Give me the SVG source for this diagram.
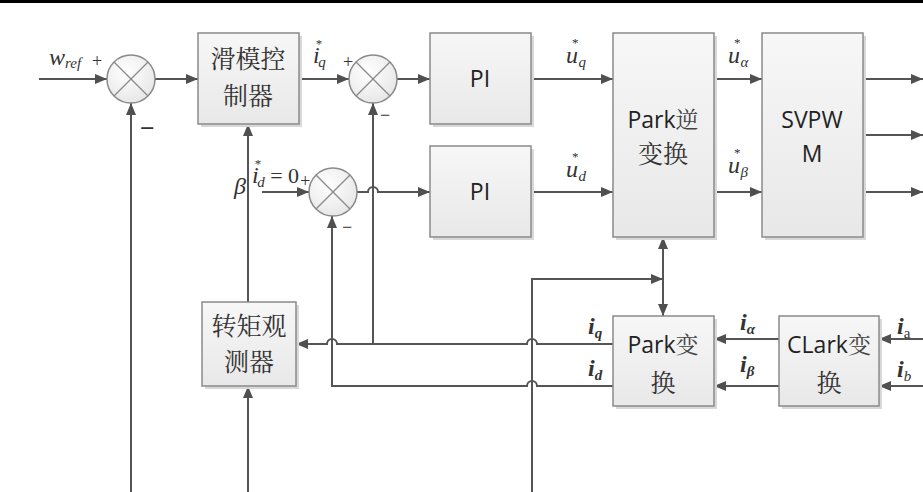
<svg xmlns="http://www.w3.org/2000/svg" width="923" height="492" viewBox="0 0 923 492">
<defs>
<linearGradient id="bg" x1="0" y1="0" x2="0" y2="1"><stop offset="0" stop-color="#f7f7f7"/><stop offset="1" stop-color="#e8e8e8"/></linearGradient>
<radialGradient id="cg" cx="0.4" cy="0.35" r="0.7"><stop offset="0" stop-color="#ffffff"/><stop offset="1" stop-color="#e6e6e6"/></radialGradient>
<marker id="ar" viewBox="0 0 12 10" refX="12" refY="5" markerWidth="12" markerHeight="10" markerUnits="userSpaceOnUse" orient="auto"><path d="M0,0 L12,5 L0,10 Z" fill="#505050"/></marker>
</defs>
<style>
.box{fill:url(#bg);stroke:#8a8a8a;stroke-width:1.5}
.sh{fill:#d8d8d8}
.sum{fill:url(#cg);stroke:#8a8a8a;stroke-width:1.5}
.x{stroke:#8a8a8a;stroke-width:1.2}
.ln{fill:none;stroke:#555;stroke-width:2}
.cjk{font-family:"Noto Serif CJK SC","Noto Sans CJK SC",serif;font-size:25px;fill:#333;text-anchor:middle}
.lat{font-family:"Open Sans","Noto Sans","Noto Sans CJK SC",sans-serif;font-size:23px;fill:#222;text-anchor:middle}
.m{font-family:"Liberation Serif",serif;font-style:italic;font-size:24px;fill:#333}
.mb{font-family:"Liberation Serif",serif;font-style:italic;font-weight:bold;font-size:24px;fill:#333}
.s{font-size:15px}
.st{font-size:13px;font-style:normal}
.sg{font-family:"Liberation Serif",serif;font-size:18px;fill:#333}
</style>
<rect x="0" y="0" width="923" height="3" fill="#000"/>

<g id="connectors">
<path class="ln" d="M39,79 H107" marker-end="url(#ar)"/>
<path class="ln" d="M155,79 H198" marker-end="url(#ar)"/>
<path class="ln" d="M299,79 H349" marker-end="url(#ar)"/>
<path class="ln" d="M397,79 H430" marker-end="url(#ar)"/>
<path class="ln" d="M531,79 H613" marker-end="url(#ar)"/>
<path class="ln" d="M714,79 H762" marker-end="url(#ar)"/>
<path class="ln" d="M714,192 H762" marker-end="url(#ar)"/>
<path class="ln" d="M531,192 H613" marker-end="url(#ar)"/>
<path class="ln" d="M357,192 H368 a5,5 0 0 1 10,0 H430" marker-end="url(#ar)"/>
<path class="ln" d="M262,192 H309" marker-end="url(#ar)"/>
<path class="ln" d="M863,79 H923" marker-end="url(#ar)"/>
<path class="ln" d="M863,135 H923" marker-end="url(#ar)"/>
<path class="ln" d="M863,192 H923" marker-end="url(#ar)"/>
<path class="ln" d="M131,492 V103" marker-end="url(#ar)"/>
<path class="ln" d="M248,302 V124" marker-end="url(#ar)"/>
<path class="ln" d="M248,492 V386" marker-end="url(#ar)"/>
<path class="ln" d="M613,344 H537 a5,5 0 0 0 -10,0 H337 a5,5 0 0 0 -10,0 H296" marker-end="url(#ar)"/>
<path class="ln" d="M373,344 V103" marker-end="url(#ar)"/>
<path class="ln" d="M613,386 H537 a5,5 0 0 0 -10,0 H332 V216" marker-end="url(#ar)"/>
<path class="ln" d="M532,492 V279 H663" marker-end="url(#ar)"/>
<path class="ln" d="M663,279 V237" marker-end="url(#ar)"/>
<path class="ln" d="M663,279 V316" marker-end="url(#ar)"/>
<path class="ln" d="M779,339 H714" marker-end="url(#ar)"/>
<path class="ln" d="M779,386 H714" marker-end="url(#ar)"/>
<path class="ln" d="M923,339 H879" marker-end="url(#ar)"/>
<path class="ln" d="M923,386 H879" marker-end="url(#ar)"/>
</g>

<g id="sum1">
<circle class="sum" cx="131" cy="79" r="24"/>
<line class="x" x1="114" y1="62" x2="148" y2="96"/><line class="x" x1="148" y1="62" x2="114" y2="96"/>
</g>
<g id="sum2">
<circle class="sum" cx="373" cy="79" r="24"/>
<line class="x" x1="356" y1="62" x2="390" y2="96"/><line class="x" x1="390" y1="62" x2="356" y2="96"/>
</g>
<g id="sum3">
<circle class="sum" cx="333" cy="192" r="24"/>
<line class="x" x1="316" y1="175" x2="350" y2="209"/><line class="x" x1="350" y1="175" x2="316" y2="209"/>
</g>

<g id="smc">
<rect class="sh" x="201" y="36" width="101" height="91"/>
<rect class="box" x="198" y="33" width="101" height="91"/>
<text class="cjk" x="248" y="68">滑模控</text>
<text class="cjk" x="248" y="105">制器</text>
</g>
<g id="pi1">
<rect class="sh" x="433" y="36" width="101" height="91"/>
<rect class="box" x="430" y="33" width="101" height="91"/>
<text class="lat" x="480" y="87">PI</text>
</g>
<g id="pi2">
<rect class="sh" x="433" y="149" width="101" height="91"/>
<rect class="box" x="430" y="146" width="101" height="91"/>
<text class="lat" x="480" y="200">PI</text>
</g>
<g id="ipark">
<rect class="sh" x="616" y="36" width="101" height="204"/>
<rect class="box" x="613" y="33" width="101" height="204"/>
<text class="lat" x="663" y="128">Park<tspan style="font-family:'Noto Serif CJK SC','Noto Sans CJK SC',serif;fill:#444">逆</tspan></text>
<text class="cjk" x="663" y="163">变换</text>
</g>
<g id="svpwm">
<rect class="sh" x="765" y="36" width="101" height="204"/>
<rect class="box" x="762" y="33" width="101" height="204"/>
<text class="lat" x="812" y="128">SVPW</text>
<text class="lat" x="812" y="162">M</text>
</g>
<g id="observer">
<rect class="sh" x="205" y="305" width="94" height="84"/>
<rect class="box" x="202" y="302" width="94" height="84"/>
<text class="cjk" x="249" y="335">转矩观</text>
<text class="cjk" x="249" y="371">测器</text>
</g>
<g id="park">
<rect class="sh" x="616" y="319" width="101" height="90"/>
<rect class="box" x="613" y="316" width="101" height="90"/>
<text class="lat" x="663" y="353">Park<tspan style="font-family:'Noto Serif CJK SC','Noto Sans CJK SC',serif;fill:#444">变</tspan></text>
<text class="cjk" x="663" y="392">换</text>
</g>
<g id="clark">
<rect class="sh" x="782" y="319" width="100" height="90"/>
<rect class="box" x="779" y="316" width="100" height="90"/>
<text class="lat" x="829" y="353">CLark<tspan style="font-family:'Noto Serif CJK SC','Noto Sans CJK SC',serif;fill:#444">变</tspan></text>
<text class="cjk" x="829" y="392">换</text>
</g>

<g id="labels">
<text class="m" x="49" y="65">w<tspan class="s" dy="3">ref</tspan></text>
<text class="sg" x="92" y="67">+</text>
<text class="sg" x="140" y="137" style="font-size:26px;font-weight:bold">−</text>
<text class="m" x="313" y="63">i<tspan class="st" dx="-4" dy="-15">*</tspan><tspan class="s" dx="-4" dy="19">q</tspan></text>
<text class="sg" x="343" y="68">+</text>
<text class="sg" x="380" y="121">−</text>
<text class="m" x="234" y="194">β</text>
<text class="m" x="252" y="183">i<tspan class="st" dx="-4" dy="-15">*</tspan><tspan class="s" dx="-4" dy="19">d</tspan><tspan dy="-4" font-style="normal" font-size="22"> = 0</tspan><tspan class="sg" dy="4">+</tspan></text>
<text class="sg" x="342" y="233">−</text>
<text class="m" x="566" y="63">u<tspan class="st" dx="-6" dy="-16">*</tspan><tspan class="s" dx="0" dy="20">q</tspan></text>
<text class="m" x="566" y="177">u<tspan class="st" dx="-6" dy="-16">*</tspan><tspan class="s" dx="0" dy="20">d</tspan></text>
<text class="m" x="728" y="63">u<tspan class="st" dx="-6" dy="-16">*</tspan><tspan class="s" dx="0" dy="20">α</tspan></text>
<text class="m" x="728" y="173">u<tspan class="st" dx="-6" dy="-16">*</tspan><tspan class="s" dx="0" dy="20">β</tspan></text>
<text class="mb" x="588" y="334">i<tspan class="s" dy="4">q</tspan></text>
<text class="mb" x="588" y="376">i<tspan class="s" dy="4">d</tspan></text>
<text class="mb" x="740" y="330">i<tspan class="s" dy="4">α</tspan></text>
<text class="mb" x="740" y="372">i<tspan class="s" dy="4">β</tspan></text>
<text class="mb" x="897" y="334">i<tspan class="s" dy="4" font-style="normal" font-weight="normal">a</tspan></text>
<text class="mb" x="897" y="377">i<tspan class="s" dy="4" font-weight="normal">b</tspan></text>
</g>
</svg>
